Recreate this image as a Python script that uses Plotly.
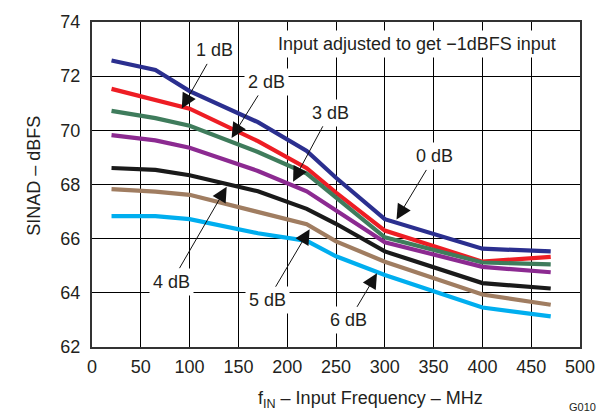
import plotly.graph_objects as go

freq = [20, 65, 100, 170, 220, 250, 300, 400, 470]

series_names = ["0 dB", "1 dB", "2 dB", "3 dB", "4 dB", "5 dB", "6 dB"]
sinad_0db = [72.58, 72.23, 71.45, 70.30, 69.24, 68.25, 66.72, 65.63, 65.53]
sinad_1db = [71.53, 71.14, 70.80, 69.60, 68.60, 67.70, 66.30, 65.15, 65.33]
sinad_2db = [70.72, 70.45, 70.17, 69.20, 68.40, 67.50, 66.05, 65.12, 65.05]
sinad_3db = [69.82, 69.63, 69.36, 68.50, 67.75, 67.05, 65.87, 64.96, 64.76]
sinad_4db = [68.61, 68.54, 68.34, 67.75, 67.10, 66.55, 65.53, 64.36, 64.16]
sinad_5db = [67.83, 67.74, 67.62, 66.97, 66.53, 65.90, 65.15, 63.94, 63.56]
sinad_6db = [66.83, 66.83, 66.72, 66.20, 65.92, 65.35, 64.66, 63.46, 63.13]

colors = ["#2B2F8F", "#EE1D24", "#3F7C5C", "#8C2A91", "#1A1A1A", "#A07D61", "#00AEEF"]

# callout labels: text, arrow tip (data coords), text offset from tip (pixels)
label_texts = ["1 dB", "2 dB", "3 dB", "0 dB", "4 dB", "5 dB", "6 dB"]
label_tip_x = [92, 143, 206, 312, 138, 223, 292]
label_tip_y = [70.81, 69.72, 68.10, 66.71, 67.92, 66.35, 64.72]
label_ax = [33, 35, 37, 38, -55, -42, -28]
label_ay = [-58, -56, -69, -63, 95, 71, 47]

x_ticks = [0, 50, 100, 150, 200, 250, 300, 350, 400, 450, 500]
y_ticks = [62, 64, 66, 68, 70, 72, 74]

FONT = "Liberation Sans, Arial, sans-serif"
TXT = "#231F20"
FS = 18

fig = go.Figure()
all_series = [sinad_0db, sinad_1db, sinad_2db, sinad_3db, sinad_4db, sinad_5db, sinad_6db]
for name, vals, col in zip(series_names, all_series, colors):
    fig.add_trace(go.Scatter(x=freq, y=vals, mode="lines", name=name,
                             line=dict(color=col, width=4.2), showlegend=False))

annotations = []
for t, tx, ty, ax, ay in zip(label_texts, label_tip_x, label_tip_y, label_ax, label_ay):
    annotations.append(dict(x=tx, y=ty, xref="x", yref="y", text=t, showarrow=True,
                            ax=ax, ay=ay, arrowhead=2, arrowsize=3, arrowwidth=1,
                            arrowcolor="#111", bgcolor="white", borderpad=3,
                            font=dict(family=FONT, size=FS, color=TXT)))

annotations.append(dict(x=333, y=73.17, xref="x", yref="y",
                        text="Input adjusted to get \u22121dBFS input", showarrow=False,
                        bgcolor="white", borderpad=3,
                        font=dict(family=FONT, size=FS, color=TXT)))
annotations.append(dict(x=-0.1434, y=0.527, xref="paper", yref="paper",
                        text="SINAD \u2013 dBFS", textangle=-90, showarrow=False,
                        font=dict(family=FONT, size=FS, color=TXT)))
annotations.append(dict(x=0.570, y=-0.16, xref="paper", yref="paper", yanchor="middle",
                        text="f<sub>IN</sub> \u2013 Input Frequency \u2013 MHz", showarrow=False,
                        font=dict(family=FONT, size=FS, color=TXT)))
annotations.append(dict(x=1.037, y=-0.184, xref="paper", yref="paper", yanchor="middle",
                        text="G010", showarrow=False,
                        font=dict(family=FONT, size=11, color=TXT)))

fig.update_layout(
    width=615, height=414,
    margin=dict(l=92, r=35, t=15, b=67),
    paper_bgcolor="white", plot_bgcolor="white",
    font=dict(family=FONT, size=FS, color=TXT),
    annotations=annotations,
    xaxis=dict(range=[0, 500], tickvals=x_ticks, showgrid=True, gridcolor="black",
               gridwidth=1, zeroline=False, showline=True, linecolor="#333",
               linewidth=2, mirror=True, ticks="", ticklabelstandoff=2,
               tickfont=dict(family=FONT, size=FS, color=TXT)),
    yaxis=dict(range=[62, 74], tickvals=y_ticks, showgrid=True, gridcolor="black",
               gridwidth=1, zeroline=False, showline=True, linecolor="#333",
               linewidth=2, mirror=True, ticks="", ticklabelstandoff=6,
               tickfont=dict(family=FONT, size=FS, color=TXT)),
)

fig.write_html("out.html")
